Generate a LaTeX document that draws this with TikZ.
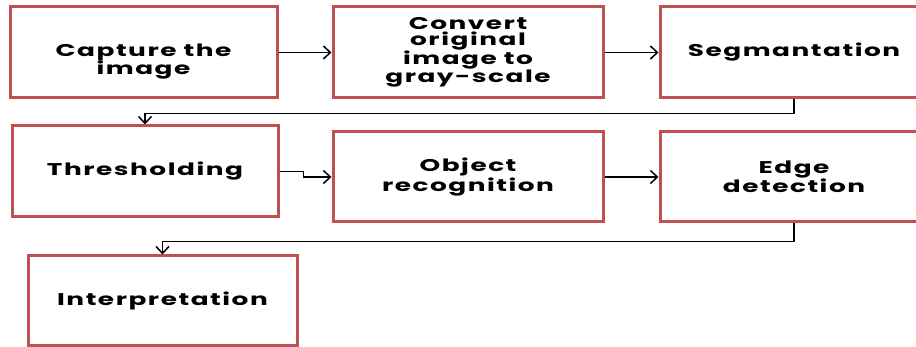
\documentclass[tikz,border=0pt]{standalone}
\usepackage{fontspec}
\setmainfont{Poppins}[FakeStretch=1.55, LetterSpace=9]
\usetikzlibrary{arrows.meta}
\definecolor{boxred}{RGB}{192,80,77}
\begin{document}
\begin{tikzpicture}[x=1pt,y=-1pt,
  box/.style={draw=boxred, line width=3pt, fill=white, inner sep=0pt, align=center,
    font=\bfseries\fontsize{17}{15.5}\selectfont},
  conn/.style={line width=1.5pt, -{Straight Barb[length=7pt,width=13pt,line width=1.5pt]}}]
\useasboundingbox (0,0) rectangle (916,347);
\clip (0,0) rectangle (916,347);
\node[box, minimum width=267pt, minimum height=91pt] (a) at (143.5,52.5) {\raisebox{-9pt}[\height][\depth]{\begin{tabular}{@{}c@{}}Capture the\\image\end{tabular}}};
\node[box, minimum width=270pt, minimum height=91pt] (b) at (468,52.5) {Convert\\original\\image to\\gray-scale};
\node[box, minimum width=268pt, minimum height=91pt] (c) at (794,52.5) {Segmantation};
\node[box, minimum width=266pt, minimum height=91pt] (d) at (145,171.5) {Thresholding};
\node[box, minimum width=270pt, minimum height=90pt] (e) at (468,177) {Object\\recognition};
\node[box, minimum width=268pt, minimum height=90pt] (f) at (794,177) {Edge\\detection};
\node[box, minimum width=269pt, minimum height=90pt] (g) at (162.5,301) {Interpretation};
\draw[conn] (a) -- (b);
\draw[conn] (b) -- (c);
\draw[conn] (c.south) -- ++(0,14) -| (d.north);
\draw[conn] (d.east) -- ++(24,0) |- (e.west);
\draw[conn] (e) -- (f);
\draw[conn] (f.south) -- ++(0,18) -| (g.north);
\end{tikzpicture}
\end{document}
